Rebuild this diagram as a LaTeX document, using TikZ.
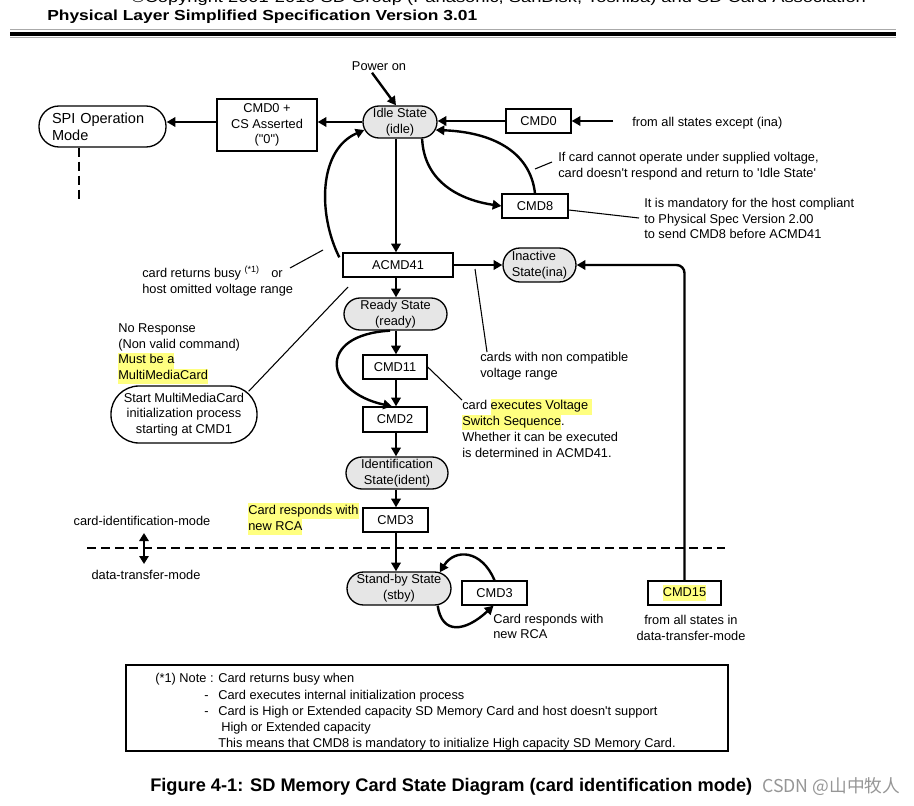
\documentclass[tikz,border=0pt]{standalone}
\usepackage{fontspec}
\setmainfont{Liberation Sans}[Ligatures=TeXOff]
\newfontfamily\cjk{Noto Sans CJK SC}
\usepackage{graphicx}
\usetikzlibrary{arrows.meta,calc}
\definecolor{statefill}{RGB}{230,230,230}
\definecolor{hly}{RGB}{255,255,128}
\definecolor{wm}{RGB}{150,150,150}
\definecolor{rulegray}{RGB}{170,170,170}
\newcommand{\hl}[1]{{\setlength{\fboxsep}{0pt}\colorbox{hly}{\strut #1}}}
\tikzset{
 fbase/.style={font=\fontsize{9.6pt}{11.8pt}\selectfont, inner sep=0pt},
 cbox/.style={fbase, draw, line width=1pt, fill=white, align=center},
 sbox/.style={cbox, fill=statefill},
 ttxt/.style={fbase, align=left},
 arrw/.style={line width=1.8pt, -{Triangle[length=6.5pt,width=7pt]}},
 lead/.style={line width=0.8pt},
 dline/.style={line width=1.5pt, dash pattern=on 6.75pt off 3.75pt},
}
\begin{document}
\begin{tikzpicture}[x=0.75pt,y=-0.75pt]
\useasboundingbox (0,0) rectangle (914,806);
\clip (0,0) rectangle (914,806);
% header
\node[anchor=base west, inner sep=0] (copy) at (131,3) {\resizebox{551pt}{8pt}{\fontsize{10.5pt}{12pt}\selectfont \textcopyright Copyright 2001-2010 SD Group (Panasonic, SanDisk, Toshiba) and SD Card Association}};
\node[anchor=base west, inner sep=0] (hdr) at (47,21) {\resizebox{322.5pt}{7.9pt}{\bfseries Physical Layer Simplified Specification Version 3.01}};
\draw[rulegray, line width=0.75pt] (10,29.5) -- (896,29.5);
\fill[black] (10,32) rectangle (896,36.5);
\draw[rulegray, line width=0.75pt] (10,38) -- (896,38);

\coordinate (col) at (396,0);
% nodes
\node[cbox, rounded corners=15pt, text width=75.75pt, inner xsep=9.75pt, minimum height=30.75pt, align=left, font=\fontsize{10.9pt}{12.8pt}\selectfont] (spi) at (102.5,126.5) {SPI Operation\\Mode};
\node[cbox, minimum width=75pt, minimum height=39pt] (cmdcs) at (267,125) {CMD0 +\\CS Asserted\\("0")};
\node[sbox, rounded corners=12pt, minimum width=55.5pt, minimum height=24pt] (idle) at (400,122) {Idle State\\(idle)};
\node[ttxt] (power) at (379,66) {Power on};
\node[cbox, minimum width=48.75pt, minimum height=18pt] (cmd0) at (538.5,121) {CMD0};
\node[ttxt, anchor=west] (fromall) at (632,123) {from all states except (ina)};
\node[cbox, minimum width=49.5pt, minimum height=18pt] (cmd8) at (535,206) {CMD8};
\node[ttxt, anchor=west] (ifcard) at (558,166) {If card cannot operate under supplied voltage,\\card doesn't respond and return to 'Idle State'};
\node[ttxt, anchor=west] (mand) at (644,218.5) {It is mandatory for the host compliant\\to Physical Spec Version 2.00\\to send CMD8 before ACMD41};
\node[cbox, minimum width=82.5pt, minimum height=18pt] (acmd) at (398,265) {ACMD41};
\node[sbox, rounded corners=12.75pt, minimum width=54.75pt, minimum height=25.5pt, align=left] (inact) at (539.5,265) {Inactive\\State(ina)};
\node[ttxt, anchor=west] (busy) at (142,281) {card returns busy \textsuperscript{(*1)}\hspace{6pt} or\\host omitted voltage range};
\node[ttxt, anchor=west] (noresp) at (118,354) {No Response\\(Non valid command)\\\hl{Must be a}\\\hl{MultiMediaCard}};
\node[cbox, rounded corners=21pt, minimum width=109.5pt, minimum height=42.75pt] (mmc) at (184,414.5) {Start MultiMediaCard\\initialization process\\starting at CMD1};
\node[sbox, rounded corners=12pt, minimum width=77.25pt, minimum height=24pt] (ready) at (395.5,314) {Ready State\\(ready)};
\node[cbox, minimum width=48pt, minimum height=18pt] (cmd11) at (395,367) {CMD11};
\node[cbox, minimum width=48pt, minimum height=18.75pt] (cmd2) at (395,419.5) {CMD2};
\node[ttxt, anchor=west] (noncomp) at (480,366.5) {cards with non compatible\\voltage range};
\node[ttxt, anchor=west] (volt) at (462,428) {card \hl{executes Voltage }\\\hl{Switch Sequence}.\\Whether it can be executed\\is determined in ACMD41.};
\node[sbox, rounded corners=12pt, minimum width=76.5pt, minimum height=24pt] (ident) at (397,473) {Identification\\State(ident)};
\node[cbox, minimum width=48.75pt, minimum height=18pt] (cmd3) at (395.5,520) {CMD3};
\node[ttxt, anchor=west] (rca1) at (248,519) {\hl{Card responds with}\\\hl{new RCA}};
\node[ttxt] (cim) at (142,521) {card-identification-mode};
\node[ttxt] (dtm) at (146,575) {data-transfer-mode};
\node[sbox, rounded corners=12.4pt, minimum width=78pt, minimum height=24.75pt] (standby) at (399,588.5) {Stand-by State\\(stby)};
\node[cbox, minimum width=48.75pt, minimum height=18pt] (cmd3b) at (494.5,593) {CMD3};
\node[ttxt, anchor=west] (rca2) at (493,626.5) {Card responds with\\new RCA};
\node[cbox, minimum width=54.75pt, minimum height=18pt] (cmd15) at (684.5,593) {\hl{CMD15}};
\node[ttxt, align=center] (fromdt) at (691,628) {from all states in\\data-transfer-mode};

% coordinates for free ends
\coordinate (spiend) at (79,203);
\coordinate (cmd0in) at (613,121);
\coordinate (ic1) at (535,169);
\coordinate (ic2) at (552,162);
\coordinate (m1) at (639,218);
\coordinate (b1) at (290,268);
\coordinate (b2) at (323,250);
\coordinate (mm1) at (348,287);
\coordinate (nc1) at (475,269);
\coordinate (nc2) at (487,352);
\coordinate (vs1) at (462,400);
\coordinate (dl) at (87,548);
\coordinate (dr) at (725,548);
\coordinate (ma) at (144,533);
\coordinate (mb) at (144,564);

% connectors
\draw[dline] (spi.south -| spiend) -- (spiend);
\draw[arrw] (cmdcs.west |- idle.west) -- (spi.east |- idle.west);
\draw[arrw] (idle.west) -- (cmdcs.east |- idle.west);
\draw[arrw] (cmd0in) -- (cmd0.east);
\draw[arrw] (cmd0.west) -- (idle.east |- cmd0.west);
\draw[arrw] ($(power.south)+(-7,2)$) -- (idle.north -| col);
\draw[arrw] (idle.south -| col) -- (acmd.north -| col);
\draw[arrw] (idle.-37) .. controls (424,182) and (460,200) .. (cmd8.west);
\draw[arrw] (cmd8.north) .. controls (530,150) and (490,132) .. ($(idle.east)+(-2,8)$);
\draw[arrw] ($(acmd.north west)+(-3,5)$) .. controls (318,215) and (318,150) .. ($(idle.west)+(2,8)$);
\draw[arrw] (acmd.east) -- (inact.west);
\draw[arrw] (acmd.south -| col) -- (ready.north -| col);
\draw[arrw] (ready.south -| col) -- (cmd11.north -| col);
\draw[arrw] (cmd11.south -| col) -- (cmd2.north -| col);
\draw[arrw] ($(ready.south)+(-5.5,0)$) .. controls (315,335) and (325,392) .. ($(cmd2.north)+(-3,0)$);
\draw[arrw] (cmd2.south -| col) -- (ident.north -| col);
\draw[arrw] (ident.south -| col) -- (cmd3.north -| col);
\draw[arrw] (cmd3.south -| col) -- (standby.north -| col);
\draw[arrw] (cmd3b.north) .. controls (482,550) and (455,548) .. ($(standby.north east)+(-12,1)$);
\draw[arrw] ($(standby.south east)+(-14,0)$) .. controls (442,635) and (465,632) .. ($(cmd3b.south)+(-1,0)$);
\draw[arrw, rounded corners=6pt] (cmd15.north) |- (inact.east);
\draw[dline] (dl) -- (dr);
\draw[line width=1.8pt, {Triangle[length=6pt,width=7pt]}-{Triangle[length=6pt,width=7pt]}] (ma) -- (mb);

% leaders
\draw[lead] (ic1) -- (ic2);
\draw[lead] ($(cmd8.east)+(0,4)$) -- (m1);
\draw[lead] (b1) -- (b2);
\draw[lead] ($(mmc.north east)+(-9,6)$) -- (mm1);
\draw[lead] (nc1) -- (nc2);
\draw[lead] (cmd11.east) -- (vs1);

% note box
\node[draw, line width=0.9pt, minimum width=451.5pt, minimum height=64.5pt, inner sep=0] (notebox) at (427,708) {};
\node[fbase, anchor=base west] (nt1) at (155,682.5) {(*1) Note : Card returns busy when};
\node[fbase, anchor=base west] (nt2) at (204,699.5) {\makebox[10.5pt][l]{-}Card executes internal initialization process};
\node[fbase, anchor=base west] (nt3) at (204,715.5) {\makebox[10.5pt][l]{-}Card is High or Extended capacity SD Memory Card and host doesn't support};
\node[fbase, anchor=base west] (nt4) at (221,731.5) {High or Extended capacity};
\node[fbase, anchor=base west] (nt5) at (218,747.5) {This means that CMD8 is mandatory to initialize High capacity SD Memory Card.};

% caption and watermark
\node[anchor=base west, inner sep=0] (cap) at (150,791) {\resizebox{451.5pt}{!}{\fontsize{12pt}{14pt}\selectfont\bfseries Figure 4-1: SD Memory Card State Diagram (card identification mode)}};
\node[anchor=base west, inner sep=0, text=wm] (wmk) at (762,792) {\resizebox{103.5pt}{!}{\cjk\fontsize{11pt}{13pt}\selectfont CSDN @山中牧人}};
\end{tikzpicture}
\end{document}
